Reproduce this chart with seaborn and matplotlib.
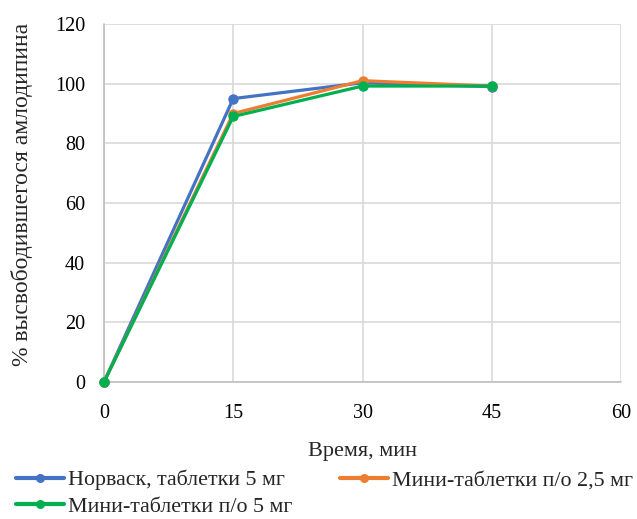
import numpy as np
import pandas as pd
import seaborn as sns
import matplotlib.pyplot as plt

time_min = [0, 15, 30, 45]
norvask_5 = [0, 95, 100.3, 99]
mini_2_5 = [0, 90, 101, 99.2]
mini_5 = [0, 89, 99.2, 99.2]
series_names = ["Норваск, таблетки 5 мг", "Мини-таблетки п/о 2,5 мг", "Мини-таблетки п/о 5 мг"]
colors = ["#4472C4", "#ED7D31", "#00B050"]
x_ticks = [0, 15, 30, 45, 60]
y_ticks = [0, 20, 40, 60, 80, 100, 120]

df = pd.concat([
    pd.DataFrame({"t": time_min, "v": vals, "s": name})
    for vals, name in zip([norvask_5, mini_2_5, mini_5], series_names)
])

sns.set_theme(style="white")
plt.rcParams["font.family"] = ["Liberation Serif", "DejaVu Serif"]

W, H = 637, 519
fig = plt.figure(figsize=(W / 100, H / 100), dpi=100)
left, right, top, bottom = 104, 621, 24, 382
ax = fig.add_axes([left / W, 1 - bottom / H, (right - left) / W, (bottom - top) / H])

sns.lineplot(data=df, x="t", y="v", hue="s", palette=colors, marker="o",
             markersize=7.5, markeredgewidth=0, linewidth=2.3, ax=ax,
             legend=False, zorder=3)

ax.set_xlim(0, 60)
ax.set_ylim(0, 120)
ax.set_xticks(x_ticks)
ax.set_yticks(y_ticks)
ax.grid(True, color="#D9D9D9", linewidth=1.2)
for side in ["top", "right", "left", "bottom"]:
    ax.spines[side].set_visible(False)
ax.axhline(0, color="#BFBFBF", linewidth=1.2, zorder=1)
ax.axvline(0, color="#BFBFBF", linewidth=1.2, zorder=1)
for ln in ax.lines:
    ln.set_clip_on(False)
ax.tick_params(axis="both", labelsize=14.5, length=0, colors="black")
ax.tick_params(axis="x", pad=16)
ax.tick_params(axis="y", pad=13.5)

ax.set_xlabel("Время, мин", fontsize=16)
ax.set_ylabel("% высвободившегося амлодипина", fontsize=17)
ax.xaxis.set_label_coords(0.5, (bottom - 442) / (bottom - top))
ax.yaxis.set_label_coords((33 - left) / (right - left), (bottom - 194) / (bottom - top))

# legend: first column holds series 1 and 3, second column series 2
order = [0, 2, 1]
handles = [plt.Line2D([], [], color=colors[i], marker="o", markersize=6.5, linewidth=3,
                      markeredgewidth=0) for i in order]
labels = [series_names[i] for i in order]
fig.legend(handles, labels, loc="upper left", bbox_to_anchor=(16 / W, 1 - 470 / H),
           ncol=2, frameon=False, fontsize=15.8, handlelength=2.2, handletextpad=0.18,
           columnspacing=2.15, labelspacing=0.28, borderaxespad=0, borderpad=0)

fig.savefig("out.png", dpi=100)
